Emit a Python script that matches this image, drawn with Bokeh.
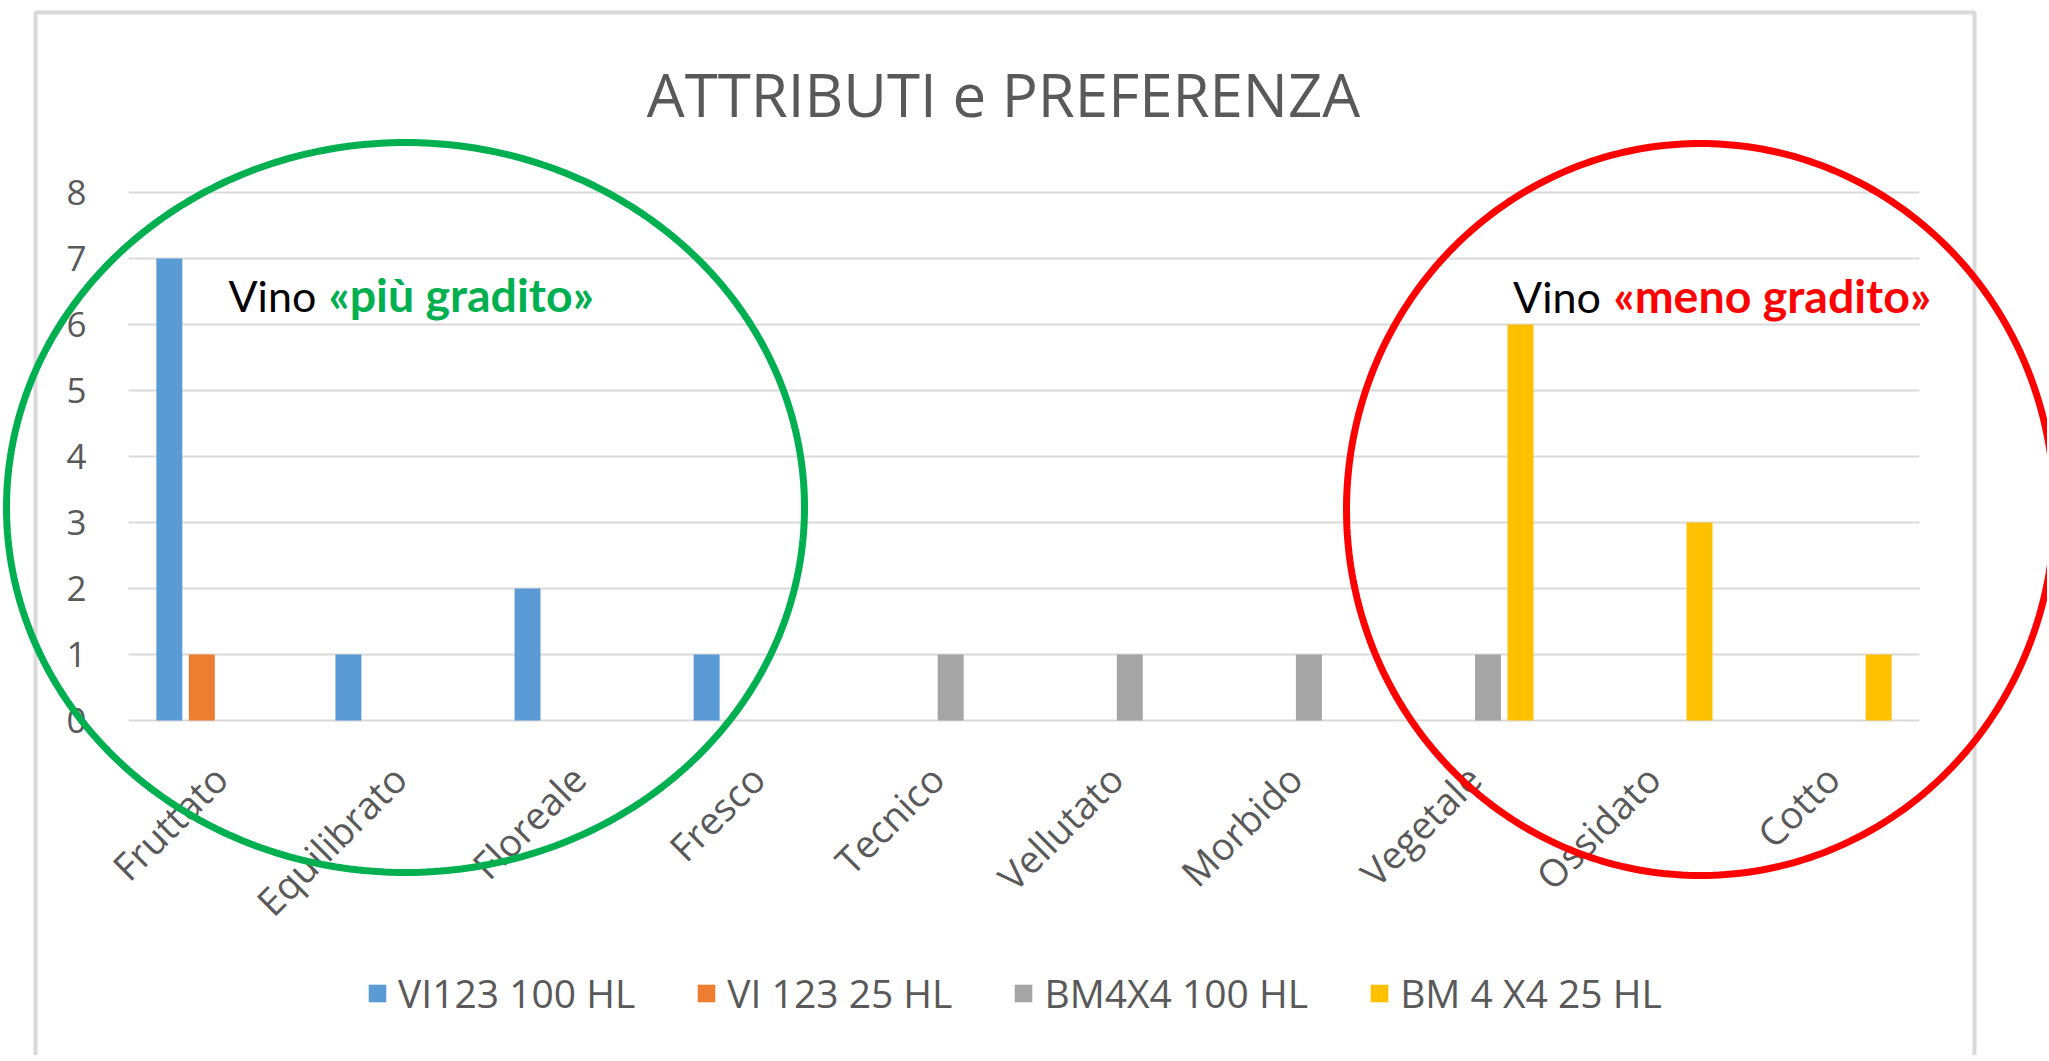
import math
from bokeh.plotting import figure
from bokeh.models import (ColumnDataSource, FactorRange, Range1d, Label,
                          Legend, LegendItem, PolyAnnotation)
from bokeh.transform import dodge
from bokeh.embed import file_html
from bokeh.resources import INLINE

# ---------------- data ----------------
categories = ["Fruttato", "Equilibrato", "Floreale", "Fresco", "Tecnico",
              "Vellutato", "Morbido", "Vegetale", "Ossidato", "Cotto"]
series_names = ["VI123 100 HL", "VI 123 25 HL", "BM4X4 100 HL", "BM 4 X4 25 HL"]
vi123_100 = [7, 1, 2, 1, 0, 0, 0, 0, 0, 0]
vi123_25 = [1, 0, 0, 0, 0, 0, 0, 0, 0, 0]
bm4x4_100 = [0, 0, 0, 0, 1, 1, 1, 1, 0, 0]
bm4x4_25 = [0, 0, 0, 0, 0, 0, 0, 6, 3, 1]
y_ticks = [0, 1, 2, 3, 4, 5, 6, 7, 8]
title_text = "ATTRIBUTI e PREFERENZA"

colors = ["#5B9BD5", "#ED7D31", "#A5A5A5", "#FFC000"]
GREY_TEXT = "#595959"
GRID = "#D9D9D9"

source = ColumnDataSource(dict(cat=categories, s0=vi123_100, s1=vi123_25,
                               s2=bm4x4_100, s3=bm4x4_25))

# The plotting frame covers the whole canvas so that the hand-drawn highlight
# ellipses (which cross the axis area) are not clipped.
W, H = 2047, 1055
PX_PER_CAT = 179.1
x_range = FactorRange(factors=categories, range_padding=128 / PX_PER_CAT,
                      range_padding_units="absolute")
y_range = Range1d(-(H - 720) / 66.0, 8 + 192 / 66.0)

p = figure(width=W, height=H, x_range=x_range, y_range=y_range,
           output_backend="svg", toolbar_location=None,
           x_axis_location=None, y_axis_location=None,
           min_border=0, min_border_left=0, min_border_right=0,
           min_border_top=0, min_border_bottom=0)
p.outline_line_color = None
p.background_fill_color = "white"
p.border_fill_color = "white"
p.xgrid.visible = False
p.ygrid.visible = False

n_cat = len(categories)

# horizontal gridlines at the value ticks
grid_src = ColumnDataSource(dict(x0=[0] * len(y_ticks), x1=[n_cat] * len(y_ticks),
                                 y=y_ticks))
p.segment(x0="x0", x1="x1", y0="y", y1="y", source=grid_src,
          line_color=GRID, line_width=2)

# bars
offsets = [-0.272, -0.0907, 0.0907, 0.272]
renderers = []
for i, col in enumerate(["s0", "s1", "s2", "s3"]):
    r = p.vbar(x=dodge("cat", offsets[i], range=p.x_range), top=col, width=0.145,
               source=source, fill_color=colors[i], line_color=None)
    renderers.append(r)

# value tick labels
ytick_src = ColumnDataSource(dict(x=[0] * len(y_ticks), y=y_ticks,
                                  t=[str(v) for v in y_ticks]))
p.text(x="x", y="y", text="t", source=ytick_src, x_offset=-42,
       text_align="right", text_baseline="middle", text_font={"value": "Open Sans"},
       text_font_size="35px", text_color=GREY_TEXT)

# category tick labels (rotated 45 degrees)
xtick_src = ColumnDataSource(dict(x=categories, y=[0] * n_cat, t=categories))
p.text(x="x", y="y", text="t", source=xtick_src, angle=math.pi / 4, y_offset=51,
       x_offset=2, text_align="right", text_baseline="middle",
       text_font={"value": "Open Sans"}, text_font_size="38px", text_color=GREY_TEXT)

# legend
legend = Legend(items=[LegendItem(label=n, renderers=[r]) for n, r in zip(series_names, renderers)],
                orientation="horizontal", location=(366, 36),
                glyph_width=22, glyph_height=22, label_standoff=10, spacing=60,
                padding=0, margin=0, border_line_color=None, background_fill_alpha=0,
                label_text_font="Open Sans", label_text_font_size="39px",
                label_text_color=GREY_TEXT)
p.add_layout(legend)

def ux(ref_x):
    return (ref_x - 128) / PX_PER_CAT

def uy(ref_y):
    return (720 - ref_y) / 66.0

# outer chart border
p.add_layout(PolyAnnotation(xs=[ux(35), ux(1974), ux(1974), ux(35)],
                            ys=[uy(12), uy(12), uy(1100), uy(1100)],
                            fill_alpha=0, line_color="#D9D9D9", line_alpha=1, line_width=4))

# title
p.add_layout(Label(x=ux(1003), y=uy(93), text=title_text, text_align="center",
                   text_baseline="alphabetic", text_font="Open Sans",
                   text_font_size="60px", text_color=GREY_TEXT))

# annotation texts
p.add_layout(Label(x=ux(228), y=uy(295), text="Vino", text_baseline="alphabetic",
                   text_font="Lato", text_font_size="43px", text_color="black"))
p.add_layout(Label(x=ux(328), y=uy(293.5), text="«più gradito»", text_baseline="alphabetic",
                   text_font="Lato", text_font_style="bold", text_font_size="46.5px",
                   text_color="#00B050"))
p.add_layout(Label(x=ux(1512.6), y=uy(296), text="Vino", text_baseline="alphabetic",
                   text_font="Lato", text_font_size="43px", text_color="black"))
p.add_layout(Label(x=ux(1613), y=uy(294.5), text="«meno gradito»", text_baseline="alphabetic",
                   text_font="Lato", text_font_style="bold", text_font_size="46.5px",
                   text_color="#FF0000"))

# highlight ellipses
def ellipse(cx, cy, ax, by, n=360):
    xs = [cx + ax * math.cos(2 * math.pi * k / n) for k in range(n)]
    ys = [cy + by * math.sin(2 * math.pi * k / n) for k in range(n)]
    return xs, ys

gx, gy = ellipse(ux(405), uy(507), 399 / PX_PER_CAT, 365 / 66.0)
p.add_layout(PolyAnnotation(xs=gx, ys=gy, fill_alpha=0, line_color="#00B050",
                            line_alpha=1, line_width=7))
rx, ry = ellipse(ux(1700), uy(509), 354 / PX_PER_CAT, 366 / 66.0)
p.add_layout(PolyAnnotation(xs=rx, ys=ry, fill_alpha=0, line_color="#FF0000",
                            line_alpha=1, line_width=7))

open("out.html", "w").write(file_html(p, INLINE))
